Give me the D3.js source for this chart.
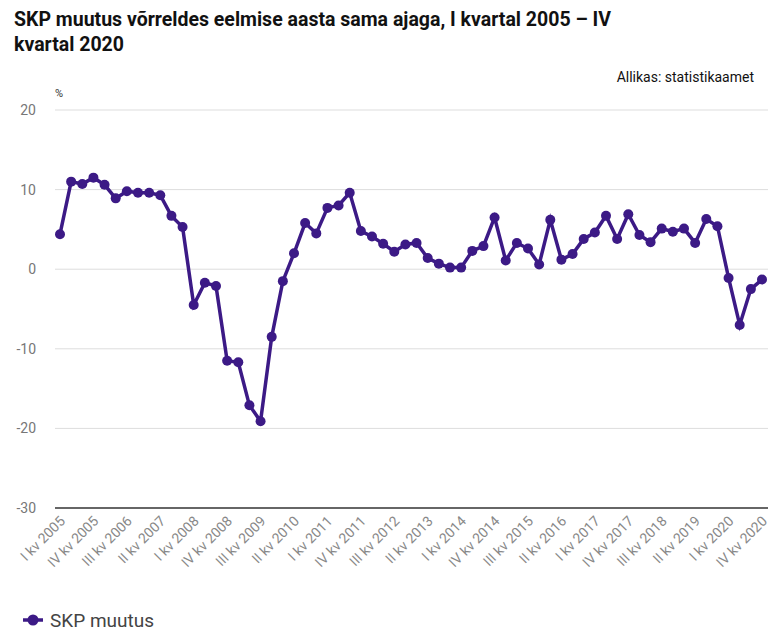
<!DOCTYPE html><html><head><meta charset="utf-8"><script src="https://cdn.jsdelivr.net/npm/d3@7"></script>
<style>body{margin:0;background:#fff;font-family:Roboto,"Noto Sans",sans-serif}</style></head><body><svg id="c" width="768" height="640"></svg>
<script>
const values=[4.4,11.0,10.7,11.5,10.6,8.9,9.8,9.6,9.6,9.3,6.7,5.3,-4.5,-1.7,-2.1,-11.5,-11.7,-17.1,-19.1,-8.5,-1.5,2.0,5.8,4.5,7.7,8.0,9.6,4.8,4.1,3.2,2.2,3.1,3.3,1.4,0.7,0.2,0.2,2.3,2.9,6.5,1.1,3.3,2.6,0.6,6.2,1.2,1.9,3.8,4.6,6.7,3.8,6.9,4.3,3.4,5.1,4.7,5.1,3.3,6.3,5.4,-1.1,-7.0,-2.5,-1.3];
const roman=["I","II","III","IV"];
const categories=values.map((v,i)=>roman[i%4]+" kv "+(2005+Math.floor(i/4)));
const yTicks=[-30,-20,-10,0,10,20];
const svg=d3.select("#c");
svg.append("text").attr("x",14).attr("y",26).attr("font-size",19.5).attr("font-weight","bold").attr("fill","#111").text("SKP muutus võrreldes eelmise aasta sama ajaga, I kvartal 2005 – IV");
svg.append("text").attr("x",14).attr("y",51).attr("font-size",19.5).attr("font-weight","bold").attr("fill","#111").text("kvartal 2020");
svg.append("text").attr("x",754).attr("y",82).attr("text-anchor","end").attr("font-size",14).attr("fill","#111").text("Allikas: statistikaamet");
svg.append("text").attr("x",55).attr("y",97).attr("font-size",11).attr("fill","#333").text("%");
const x=d3.scalePoint().domain(categories).range([60,762]);
const y=d3.scaleLinear().domain([-30,20]).range([508,110]);
yTicks.forEach(t=>{
 svg.append("line").attr("x1",55).attr("x2",768).attr("y1",y(t)).attr("y2",y(t)).attr("stroke",t==-30?"#333":"#ddd").attr("stroke-width",t==-30?1.5:1);
 svg.append("text").attr("x",36).attr("y",y(t)+5).attr("text-anchor","end").attr("font-size",14).attr("fill","#777").text(t);
});
categories.forEach((c,i)=>{ if(i%3) return;
 svg.append("text").attr("transform",`translate(${x(c)+6},${522}) rotate(-45)`).attr("text-anchor","end").attr("font-size",14).attr("fill","#888").text(c);
});
const col="#3c1a86";
svg.append("path").datum(values).attr("fill","none").attr("stroke",col).attr("stroke-width",3.5)
 .attr("d",d3.line().x((d,i)=>x(categories[i])).y(d=>y(d)));
svg.selectAll("circle.p").data(values).enter().append("circle").attr("cx",(d,i)=>x(categories[i])).attr("cy",d=>y(d)).attr("r",5).attr("fill",col);
svg.append("line").attr("x1",23).attr("x2",43).attr("y1",620).attr("y2",620).attr("stroke",col).attr("stroke-width",3.5);
svg.append("circle").attr("cx",33).attr("cy",620).attr("r",5.5).attr("fill",col);
svg.append("text").attr("x",50).attr("y",627).attr("font-size",19).attr("fill","#444").text("SKP muutus");
</script></body></html>
